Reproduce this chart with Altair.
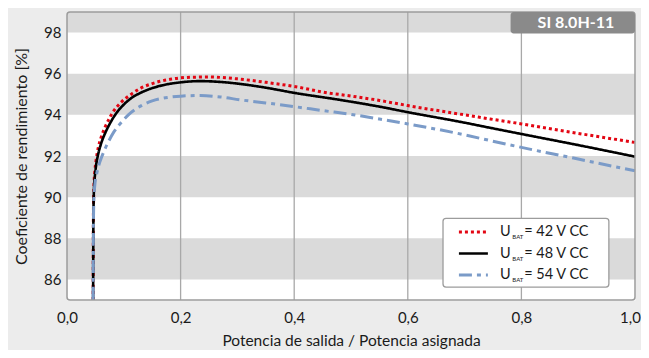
import altair as alt
import pandas as pd

# ---------------- data ----------------
series_names = ["42 V CC", "48 V CC", "54 V CC"]

x42 = [0.046, 0.0465, 0.0475, 0.049, 0.051, 0.055, 0.060, 0.067, 0.075, 0.080, 0.095, 0.114, 0.13, 0.149,
       0.184, 0.22, 0.25, 0.30, 0.35, 0.40, 0.463, 0.48, 0.55, 0.60, 0.70, 0.745, 0.80, 0.90, 1.0]
y42 = [85.0, 89.2, 90.6, 91.25, 91.75, 92.4, 92.9, 93.4, 93.85, 94.1, 94.6, 95.02, 95.3, 95.51,
       95.74, 95.83, 95.84, 95.75, 95.58, 95.38, 95.05, 94.99, 94.7, 94.45, 94.0, 93.8, 93.56, 93.1, 92.66]

x48 = [0.046, 0.0465, 0.0475, 0.049, 0.051, 0.055, 0.060, 0.067, 0.076, 0.086, 0.100, 0.115, 0.128, 0.145,
       0.167, 0.20, 0.235, 0.27, 0.30, 0.35, 0.40, 0.48, 0.55, 0.60, 0.70, 0.745, 0.80, 0.90, 1.00]
y48 = [85.0, 89.0, 90.4, 91.0, 91.5, 92.1, 92.6, 93.1, 93.6, 94.05, 94.5, 94.85, 95.05, 95.25,
       95.43, 95.58, 95.64, 95.6, 95.52, 95.32, 95.07, 94.73, 94.4, 94.13, 93.62, 93.37, 93.07, 92.53, 91.97]

x54 = [0.046, 0.0465, 0.0475, 0.049, 0.052, 0.056, 0.061, 0.067, 0.073, 0.082, 0.093, 0.108, 0.131, 0.15,
       0.178, 0.20, 0.235, 0.27, 0.305, 0.35, 0.40, 0.463, 0.48, 0.55, 0.60, 0.70, 0.745, 0.80, 0.90, 1.0]
y54 = [85.0, 88.8, 90.0, 90.6, 91.1, 91.55, 91.95, 92.35, 92.7, 93.15, 93.55, 94.0, 94.45, 94.68,
       94.85, 94.91, 94.94, 94.87, 94.73, 94.58, 94.4, 94.16, 94.1, 93.8, 93.56, 93.03, 92.75, 92.42, 91.85, 91.28]

x_ticks = [0.0, 0.2, 0.4, 0.6, 0.8, 1.0]
y_ticks = [86, 88, 90, 92, 94, 96, 98]
grid_x = [0.2, 0.4, 0.6, 0.8]
band_lo = [86, 90, 94, 98]
band_hi = [88, 92, 96, 99]
badge_text = "SI 8.0H-11"

# legend layout in data coordinates
leg_rows_y = [88.31, 87.26, 86.22]

# ---------------- styles ----------------
FONT = "Lato"
W, H = 568, 288
colors = ["#e30613", "#000000", "#7b9bc8"]
dashes = [[3, 3], [1, 0], [13, 5, 4, 5]]
widths = [3.0, 2.6, 3.0]

xs = alt.Scale(domain=[0, 1], nice=False, zero=False)
ys = alt.Scale(domain=[85, 99], nice=False, zero=False)

xaxis = alt.Axis(values=x_ticks, labelExpr="replace(format(datum.value, '.1f'), '.', ',')",
                 grid=False, domain=False, ticks=False, labelPadding=10, labelFontSize=15,
                 labelColor="#1a1a1a", labelFont=FONT, title="Potencia de salida / Potencia asignada",
                 titleFont=FONT, titleFontSize=15.5, titleFontWeight="normal", titleColor="#1a1a1a",
                 titlePadding=8, labelFlush=False,
                 labelOffset={"condition": {"test": "datum.value == 1", "value": -5}, "value": 0})
yaxis = alt.Axis(values=y_ticks, grid=False, domain=False, ticks=False, labelPadding=6,
                 labelFontSize=15, labelColor="#1a1a1a", labelFont=FONT,
                 title="Coeficiente de rendimiento [%]", titleFont=FONT, titleFontSize=16,
                 titleFontWeight="normal", titleColor="#1a1a1a", titlePadding=14)

# ---------------- layers ----------------
bands = pd.DataFrame({"lo": band_lo, "hi": band_hi})
band_layer = alt.Chart(bands).mark_rect(color="#dadada").encode(
    x=alt.value(0), x2=alt.value(W),
    y=alt.Y("lo:Q", scale=ys, axis=yaxis), y2="hi:Q")

grid_layer = alt.Chart(pd.DataFrame({"g": grid_x})).mark_rule(color="#a8a8a8", strokeWidth=1.3).encode(
    x=alt.X("g:Q", scale=xs, axis=xaxis))

line_layers = []
for xv, yv, name, c, d, w in zip([x42, x48, x54], [y42, y48, y54], series_names, colors, dashes, widths):
    df = pd.DataFrame({"x": xv, "y": yv})
    line_layers.append(
        alt.Chart(df).mark_line(color=c, strokeDash=d, strokeWidth=w, interpolate="monotone",
                                strokeCap="butt").encode(
            x=alt.X("x:Q", scale=xs, axis=xaxis),
            y=alt.Y("y:Q", scale=ys, axis=yaxis)))

frame = pd.DataFrame({"x0": [0.0], "x1": [1.0], "y0": [85.0], "y1": [99.0]})
frame_layer = alt.Chart(frame).mark_rect(filled=False, stroke="#9c9c9c", strokeWidth=1.5,
                                         cornerRadius=3).encode(
    x=alt.X("x0:Q", scale=xs, axis=xaxis), x2="x1:Q",
    y=alt.Y("y0:Q", scale=ys, axis=yaxis), y2="y1:Q")

# badge
badge = pd.DataFrame({"x0": [0.781], "x1": [1.0], "y0": [97.95], "y1": [99.0],
                      "tx": [0.896], "ty": [98.48], "t": [badge_text]})
badge_rect = alt.Chart(badge).mark_rect(color="#8a8a8a", cornerRadius=3).encode(
    x=alt.X("x0:Q", scale=xs, axis=xaxis), x2="x1:Q",
    y=alt.Y("y0:Q", scale=ys, axis=yaxis), y2="y1:Q")
badge_text_layer = alt.Chart(badge).mark_text(color="white", font=FONT, fontSize=16,
                                              fontWeight="bold", align="center",
                                              baseline="middle").encode(
    x=alt.X("tx:Q", scale=xs, axis=xaxis), y=alt.Y("ty:Q", scale=ys, axis=yaxis), text="t:N")

# legend
legbox = pd.DataFrame({"x0": [0.662], "x1": [0.954], "y0": [85.63], "y1": [88.97]})
leg_box_layer = alt.Chart(legbox).mark_rect(fill="white", stroke="#9c9c9c", strokeWidth=1.3,
                                            cornerRadius=3).encode(
    x=alt.X("x0:Q", scale=xs, axis=xaxis), x2="x1:Q",
    y=alt.Y("y0:Q", scale=ys, axis=yaxis), y2="y1:Q")

leg_layers = []
for ry, name, c, d, w in zip(leg_rows_y, series_names, colors, dashes, widths):
    row = pd.DataFrame({"a": [0.690], "b": [0.741], "y": [ry], "u": [0.7623], "sb": [0.7840],
                        "eq": [0.8050], "t": ["= " + name]})
    leg_layers.append(alt.Chart(row).mark_rule(color=c, strokeDash=d, strokeWidth=w,
                                               strokeCap="butt").encode(
        x=alt.X("a:Q", scale=xs, axis=xaxis), x2="b:Q", y=alt.Y("y:Q", scale=ys, axis=yaxis)))
    leg_layers.append(alt.Chart(row).mark_text(font=FONT, fontSize=14.5, color="#1a1a1a", align="left",
                                               baseline="middle").encode(
        x=alt.X("u:Q", scale=xs, axis=xaxis), y=alt.Y("y:Q", scale=ys, axis=yaxis),
        text=alt.value("U")))
    leg_layers.append(alt.Chart(row).mark_text(font=FONT, fontSize=6, color="#1a1a1a", align="left",
                                               baseline="middle", dy=5).encode(
        x=alt.X("sb:Q", scale=xs, axis=xaxis), y=alt.Y("y:Q", scale=ys, axis=yaxis),
        text=alt.value("BAT")))
    leg_layers.append(alt.Chart(row).mark_text(font=FONT, fontSize=14.5, color="#1a1a1a", align="left",
                                               baseline="middle").encode(
        x=alt.X("eq:Q", scale=xs, axis=xaxis), y=alt.Y("y:Q", scale=ys, axis=yaxis),
        text="t:N"))

chart = alt.layer(
    band_layer, grid_layer, *line_layers, frame_layer, badge_rect, badge_text_layer,
    leg_box_layer, *leg_layers
).properties(
    width=W, height=H,
    autosize=alt.AutoSizeParams(type="none"),
    padding={"left": 59, "top": 4, "right": 6, "bottom": 50},
    background="#ececec",
).configure_view(fill="white", stroke="transparent")

chart.save("out.html", embed_options={"renderer": "svg", "actions": False})
